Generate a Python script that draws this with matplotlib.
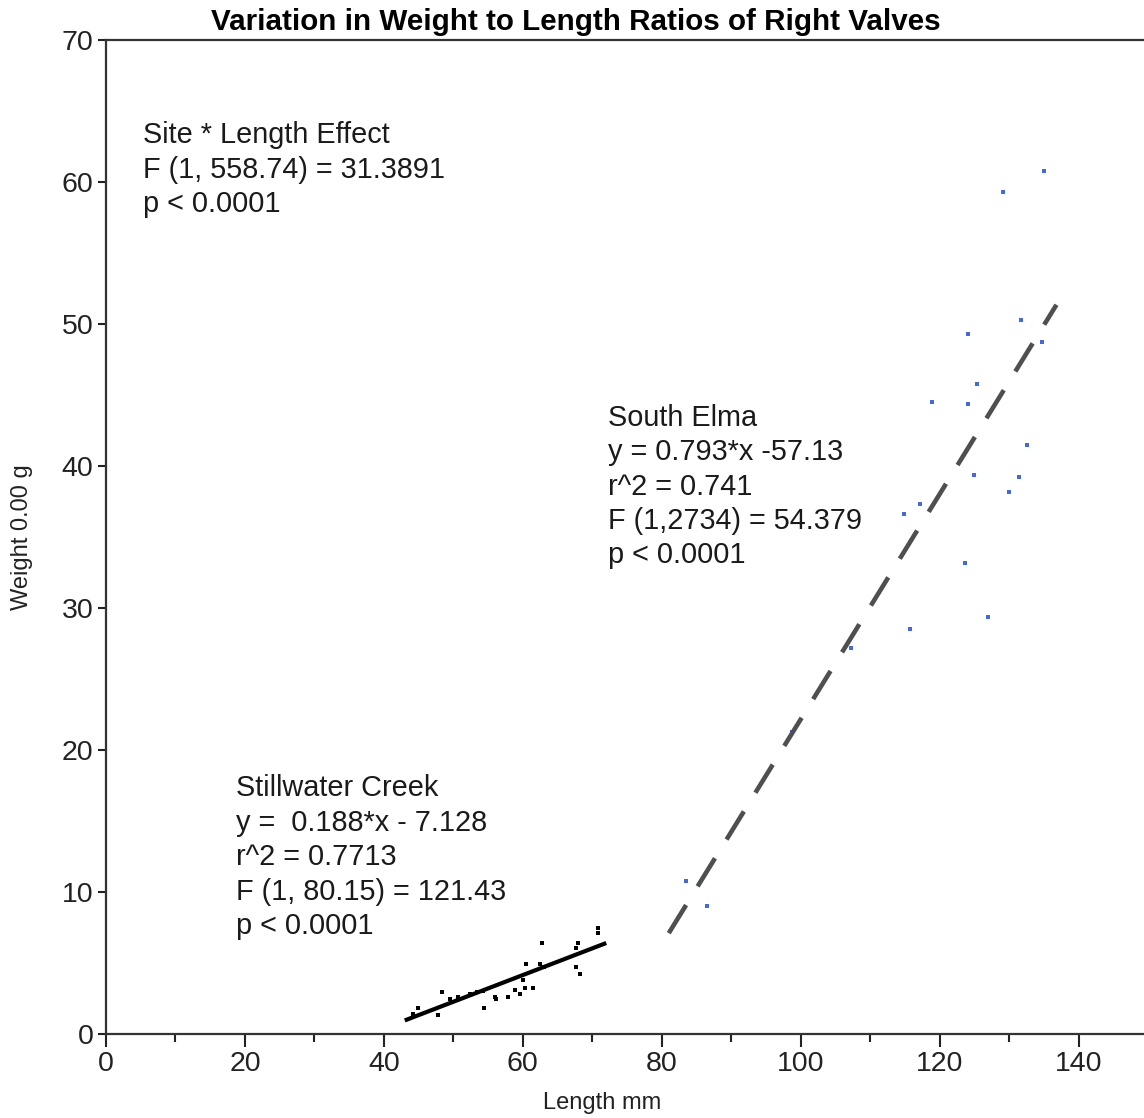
import numpy as np
import matplotlib
matplotlib.use('Agg')
from matplotlib import pyplot as plt

plt.rcParams['font.family'] = ['Liberation Sans', 'DejaVu Sans']

# Stillwater Creek (black) measurements
still_len = [44.2, 44.9, 47.8, 48.3, 49.5, 50.6, 52.4, 53.4, 54.2, 54.4, 56.0, 56.2,
             57.8, 58.8, 59.6, 60.0, 60.3, 60.4, 61.4, 62.4, 62.7, 63.0, 67.6, 67.9,
             67.6, 68.2, 70.8, 70.8]
still_wt = [1.41, 1.83, 1.34, 2.96, 2.46, 2.60, 2.82, 2.96, 3.03, 1.83, 2.60, 2.46,
            2.60, 3.10, 2.82, 3.80, 3.24, 4.93, 3.24, 4.93, 6.40, 4.70, 6.05, 6.40,
            4.70, 4.20, 7.46, 7.10]

# South Elma (blue) measurements
elma_len = [83.5, 86.5, 98.7, 107.2, 115.7, 127.0, 123.7, 114.8, 117.1, 129.9, 131.4,
            125.0, 132.5, 124.0, 118.9, 125.3, 134.7, 124.0, 131.7, 129.1, 135.0]
elma_wt = [10.8, 9.0, 21.3, 27.2, 28.5, 29.4, 33.2, 36.6, 37.3, 38.2, 39.2,
           39.4, 41.5, 44.4, 44.5, 45.8, 48.7, 49.3, 50.3, 59.3, 60.8]

# fitted lines: slope, intercept, x range
still_fit = (0.188, -7.128, 43.0, 72.0)
elma_fit = (0.793, -57.13, 81.0, 136.8)

site_text = ['Site * Length Effect', 'F (1, 558.74) = 31.3891', 'p < 0.0001']
elma_text = ['South Elma', 'y = 0.793*x -57.13', 'r^2 = 0.741', 'F (1,2734) = 54.379', 'p < 0.0001']
still_text = ['Stillwater Creek', 'y =  0.188*x - 7.128', 'r^2 = 0.7713', 'F (1, 80.15) = 121.43', 'p < 0.0001']

fig = plt.figure(figsize=(11.44, 11.18), dpi=100)
ax = fig.add_axes([106 / 1144, 1 - 1034 / 1118, 1 - 106 / 1144, (1034 - 40) / 1118])

ax.scatter(elma_len, elma_wt, s=7, marker='s', color='#4169e1', linewidths=0, zorder=2)
ax.scatter(still_len, still_wt, s=6, marker='s', color='black', linewidths=0, zorder=2)

xs = np.array(still_fit[2:])
ax.plot(xs, still_fit[0] * xs + still_fit[1], color='black', lw=3, solid_capstyle='butt', zorder=3)
xs = np.array(elma_fit[2:])
ax.plot(xs, elma_fit[0] * xs + elma_fit[1], color='#4f4f4f', lw=3.3, dashes=(7.2, 4.8), zorder=3)


def block(x, y, lines):
    for i, s in enumerate(lines):
        ax.annotate(s, (x, y), xytext=(0, -24.8 * i), textcoords='offset points',
                    fontsize=20.8, color='#1a1a1a', va='center', ha='left')


block(5.3, 63.3, site_text)
block(72.2, 43.4, elma_text)
block(18.7, 17.3, still_text)

ax.set_xlim(0, 149.4)
ax.set_ylim(0, 70)
ax.set_xticks(np.arange(0, 141, 20))
ax.set_xticks(np.arange(10, 141, 20), minor=True)
ax.set_yticks(np.arange(0, 71, 10))
ax.tick_params(axis='both', which='major', labelsize=20.5, length=9, width=1.5,
               color='#222222', labelcolor='#222222', pad=3)
ax.tick_params(axis='x', which='minor', length=6, width=1.5, color='#222222')
ax.tick_params(axis='y', which='major', length=6)
for side in ['left', 'bottom', 'top']:
    ax.spines[side].set_linewidth(1.6)
    ax.spines[side].set_color('#333333')
ax.spines['right'].set_visible(False)

ax.set_xlabel('Length mm', fontsize=17, color='#222222')
ax.xaxis.set_label_coords((602 - 106) / 1038, -0.058)
ax.set_ylabel('Weight 0.00 g', fontsize=17, color='#222222')
ax.yaxis.set_label_coords(-(106 - 33) / 1038, (1034 - 537) / 994)

fig.text(576 / 1144, 1 - 22 / 1118, 'Variation in Weight to Length Ratios of Right Valves',
         fontsize=21.3, fontweight='bold', ha='center', va='center', color='black')

fig.savefig('out.png', dpi=100)
